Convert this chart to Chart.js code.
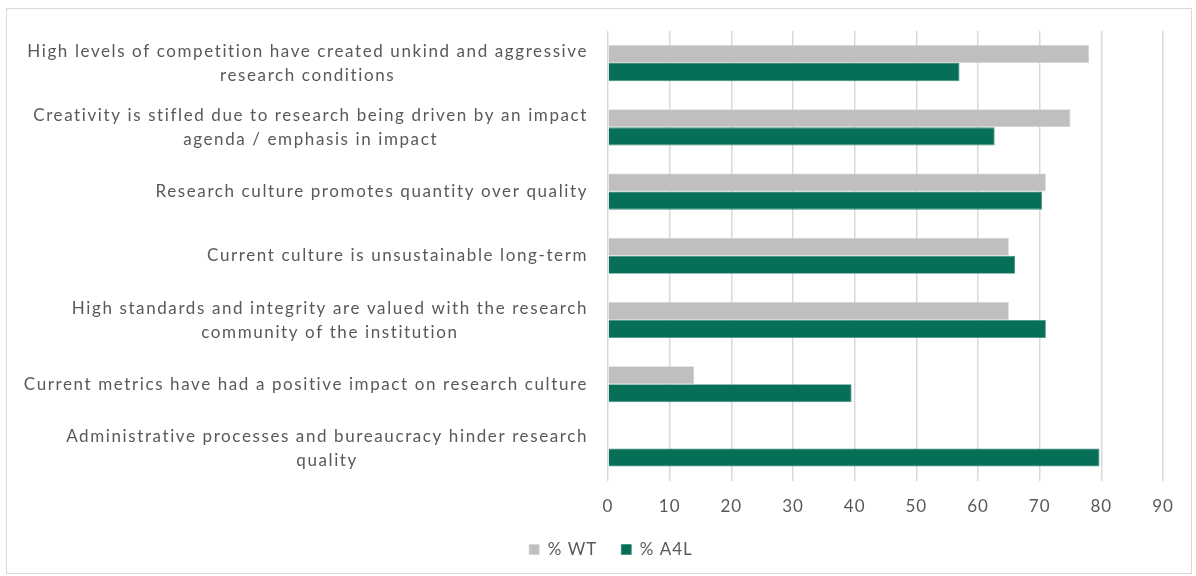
<!DOCTYPE html>
<html>
<head>
<meta charset="utf-8">
<script src="https://cdn.jsdelivr.net/npm/chart.js@4.4.0/dist/chart.umd.min.js"></script>
<style>
  html, body { margin: 0; padding: 0; background: #fff; }
  #wrap { position: absolute; left: 0; top: 0; width: 1196px; height: 576px; }
  #frame { position: absolute; left: 6px; top: 8px; width: 1186px; height: 566px; border: 1px solid #D9D9D9; box-sizing: border-box; pointer-events: none; }
</style>
</head>
<body>
<div id="wrap"><canvas id="c" width="1196" height="576"></canvas></div>
<div id="frame"></div>
<script>
const categories = [
  ["High levels of competition have created unkind and aggressive", "research conditions"],
  ["Creativity is stifled due to research being driven by an impact", "agenda / emphasis in impact"],
  ["Research culture promotes quantity over quality"],
  ["Current culture is unsustainable long-term"],
  ["High standards and integrity are valued with the research", "community of the institution"],
  ["Current metrics have had a positive impact on research culture"],
  ["Administrative processes and bureaucracy hinder research", "quality"]
];
const seriesNames = ["% WT", "% A4L"];
const wtValues = [78, 75, 71, 65, 65, 14, null];
const a4lValues = [57, 62.7, 70.4, 66, 71, 39.5, 79.7];
const xTicks = [0, 10, 20, 30, 40, 50, 60, 70, 80, 90];

const FONT = 'Lato, "Open Sans", sans-serif';
const TEXT = '#595959';

const spacingPlugin = {
  id: 'spacing',
  beforeUpdate(chart) { chart.ctx.letterSpacing = '1px'; },
  beforeDraw(chart) { chart.ctx.letterSpacing = '1px'; }
};

const labelPlugin = {
  id: 'centeredLabels',
  afterDraw(chart) {
    const ctx = chart.ctx;
    const ys = chart.scales.y;
    const rightEdge = 588;
    const lineH = 24;
    ctx.save();
    ctx.letterSpacing = '1.6px';
    ctx.font = '17px ' + FONT;
    ctx.fillStyle = TEXT;
    ctx.textAlign = 'center';
    ctx.textBaseline = 'middle';
    categories.forEach((lines, i) => {
      const yc = ys.getPixelForValue(i);
      const maxW = Math.max(...lines.map(l => ctx.measureText(l).width));
      const cx = rightEdge - maxW / 2;
      const y0 = yc - (lines.length - 1) * lineH / 2;
      lines.forEach((l, j) => ctx.fillText(l, cx, y0 + j * lineH));
    });
    ctx.restore();
  }
};

new Chart(document.getElementById('c'), {
  type: 'bar',
  data: {
    labels: categories.map(c => c.join(' ')),
    datasets: [
      { label: seriesNames[0], data: wtValues, backgroundColor: '#BFBFBF', borderColor: '#D4D4D4', borderWidth: 0.8 },
      { label: seriesNames[1], data: a4lValues, backgroundColor: '#076F58', borderColor: '#3E8E7C', borderWidth: 0.8 }
    ]
  },
  options: {
    indexAxis: 'y',
    responsive: false,
    animation: false,
    devicePixelRatio: 1,
    layout: { padding: { top: 31, right: 33, left: 59, bottom: 8 } },
    datasets: { bar: { barPercentage: 1, categoryPercentage: 0.5625 } },
    scales: {
      x: {
        min: 0, max: 90,
        afterBuildTicks(scale) { scale.ticks = xTicks.map(v => ({ value: v })); },
        afterFit(scale) { scale.height = scale.height - 16; },
        grid: { color: '#D9D9D9', lineWidth: 1.5, drawTicks: false },
        border: { display: false },
        ticks: { color: TEXT, font: { family: FONT, size: 17 }, padding: 16 }
      },
      y: {
        grid: { display: false },
        border: { display: false },
        ticks: { display: false },
        afterFit(scale) { scale.width = 549; }
      }
    },
    plugins: {
      legend: {
        position: 'bottom',
        labels: { color: TEXT, font: { family: FONT, size: 17 }, boxWidth: 10, boxHeight: 10, padding: 24 }
      },
      tooltip: { enabled: false }
    }
  },
  plugins: [spacingPlugin, labelPlugin]
});
</script>
</body>
</html>
